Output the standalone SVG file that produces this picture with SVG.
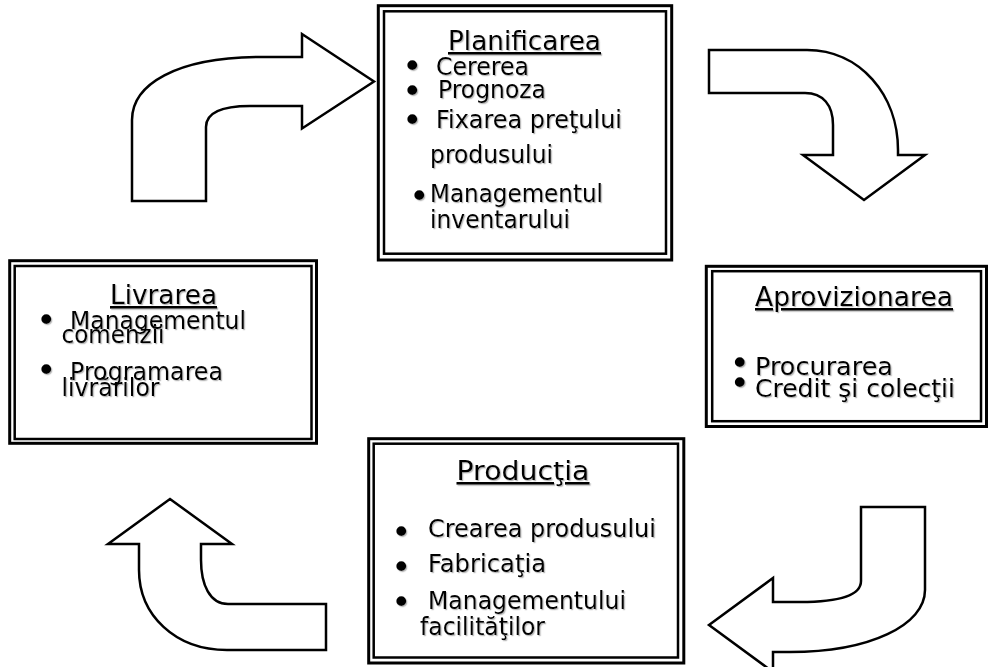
<svg xmlns="http://www.w3.org/2000/svg" width="989" height="667" viewBox="0 0 989 667">
  <defs>
    <filter id="soft" x="-5%" y="-20%" width="110%" height="140%">
      <feDropShadow dx="1.2" dy="1.2" stdDeviation="0.5" flood-color="#808080" flood-opacity="0.55"/>
    </filter>
  </defs>
  <style>
    .outer { fill: #ffffff; stroke: #000000; stroke-width: 3; }
    .inner { fill: none; stroke: #000000; stroke-width: 2.5; }
    .arrow { fill: #ffffff; stroke: #000000; stroke-width: 2.5; stroke-linejoin: miter; }
    text { font-family: "DejaVu Sans", Verdana, "Liberation Sans", sans-serif; fill: #000000; }
    .title { font-size: 26px; text-decoration: underline; }
    .item { font-size: 24px; }
    .bul { font-size: 34px; }
    .txt { filter: url(#soft); }
  </style>

  <!-- curved block arrows linking the stages -->
  <g id="connectors">
    <path class="arrow" d="M132,201 L132,120 C132,85 175,57 262,57 L302,57 L302,34 L374,81.5 L302,128.5 L302,106 L250,106 C220,106 206,113 206,127 L206,201 Z"/>
    <path class="arrow" d="M709,50 L807,50 C860,50 898,95 898,150 L898,155 L925,155 L864,200 L803,155 L833,155 L833,125 C833,105 823,93 805,93 L709,93 Z"/>
    <path class="arrow" d="M861,507 L925,507 L925,590 C925,625 870,652 790,652 L773,652 L773,672 L709,625 L773,578 L773,602 L800,602 C840,602 861,595 861,581 Z"/>
    <path class="arrow" d="M108,544 L170,499 L232,544 L201,544 L201,560 C201,585 210,604 228,604 L326,604 L326,650 L227,650 C175,650 139,615 139,570 L139,544 Z"/>
  </g>

  <!-- Planificarea -->
  <g id="planificarea">
    <rect class="outer" x="378.3" y="5.7" width="293.4" height="254.3"/>
    <rect class="inner" x="384" y="11.3" width="282" height="242.4"/>
    <g class="txt">
      <text class="title" x="448" y="50" textLength="153" lengthAdjust="spacingAndGlyphs">Planificarea</text>
      <text class="bul" x="402.2" y="78.3">•</text>
      <text class="item" x="436" y="75" textLength="93" lengthAdjust="spacingAndGlyphs">Cererea</text>
      <text class="bul" x="402.2" y="103.3">•</text>
      <text class="item" x="438" y="97.5" textLength="108" lengthAdjust="spacingAndGlyphs">Prognoza</text>
      <text class="bul" x="402.2" y="131.8">•</text>
      <text class="item" x="436" y="128" textLength="186" lengthAdjust="spacingAndGlyphs">Fixarea preţului</text>
      <text class="item" x="430" y="163.3" textLength="123" lengthAdjust="spacingAndGlyphs">produsului</text>
      <text class="bul" x="409.2" y="208.3">•</text>
      <text class="item" x="430" y="201.7" textLength="173" lengthAdjust="spacingAndGlyphs">Managementul</text>
      <text class="item" x="430" y="228" textLength="140" lengthAdjust="spacingAndGlyphs">inventarului</text>
    </g>
  </g>

  <!-- Livrarea -->
  <g id="livrarea">
    <rect class="outer" x="9.7" y="260.7" width="306.8" height="182.6"/>
    <rect class="inner" x="14.7" y="266" width="296.8" height="173"/>
    <g class="txt">
      <text class="title" x="110" y="304" textLength="107" lengthAdjust="spacingAndGlyphs">Livrarea</text>
      <text class="bul" x="36.2" y="332.3">•</text>
      <text class="item" x="70" y="329" textLength="176" lengthAdjust="spacingAndGlyphs">Managementul</text>
      <text class="item" x="61.5" y="343" textLength="103" lengthAdjust="spacingAndGlyphs">comenzii</text>
      <text class="bul" x="36.2" y="382.3">•</text>
      <text class="item" x="70" y="380" textLength="153" lengthAdjust="spacingAndGlyphs">Programarea</text>
      <text class="item" x="61.5" y="396" textLength="98" lengthAdjust="spacingAndGlyphs">livrărilor</text>
    </g>
  </g>

  <!-- Aprovizionarea -->
  <g id="aprovizionarea">
    <rect class="outer" x="706.3" y="266.3" width="280.2" height="160.2"/>
    <rect class="inner" x="712.2" y="271.2" width="268.8" height="150"/>
    <g class="txt">
      <text class="title" x="755" y="306" textLength="198" lengthAdjust="spacingAndGlyphs">Aprovizionarea</text>
      <text class="bul" x="729.7" y="375">•</text>
      <text class="item" x="755" y="375" textLength="138" lengthAdjust="spacingAndGlyphs">Procurarea</text>
      <text class="bul" x="729.7" y="394.5">•</text>
      <text class="item" x="755" y="397" textLength="200" lengthAdjust="spacingAndGlyphs">Credit şi colecţii</text>
    </g>
  </g>

  <!-- Productia -->
  <g id="productia">
    <rect class="outer" x="368.7" y="438.7" width="315.1" height="224.3"/>
    <rect class="inner" x="373.7" y="443.7" width="304.3" height="213.8"/>
    <g class="txt">
      <text class="title" x="456.5" y="480" textLength="133" lengthAdjust="spacingAndGlyphs">Producţia</text>
      <text class="bul" x="391.2" y="544.3">•</text>
      <text class="item" x="428" y="537" textLength="228" lengthAdjust="spacingAndGlyphs">Crearea produsului</text>
      <text class="bul" x="391.2" y="579.3">•</text>
      <text class="item" x="428" y="572" textLength="118" lengthAdjust="spacingAndGlyphs">Fabricaţia</text>
      <text class="bul" x="391.2" y="614.3">•</text>
      <text class="item" x="428" y="608.5" textLength="198" lengthAdjust="spacingAndGlyphs">Managementului</text>
      <text class="item" x="420" y="635" textLength="125" lengthAdjust="spacingAndGlyphs">facilităţilor</text>
    </g>
  </g>
</svg>
